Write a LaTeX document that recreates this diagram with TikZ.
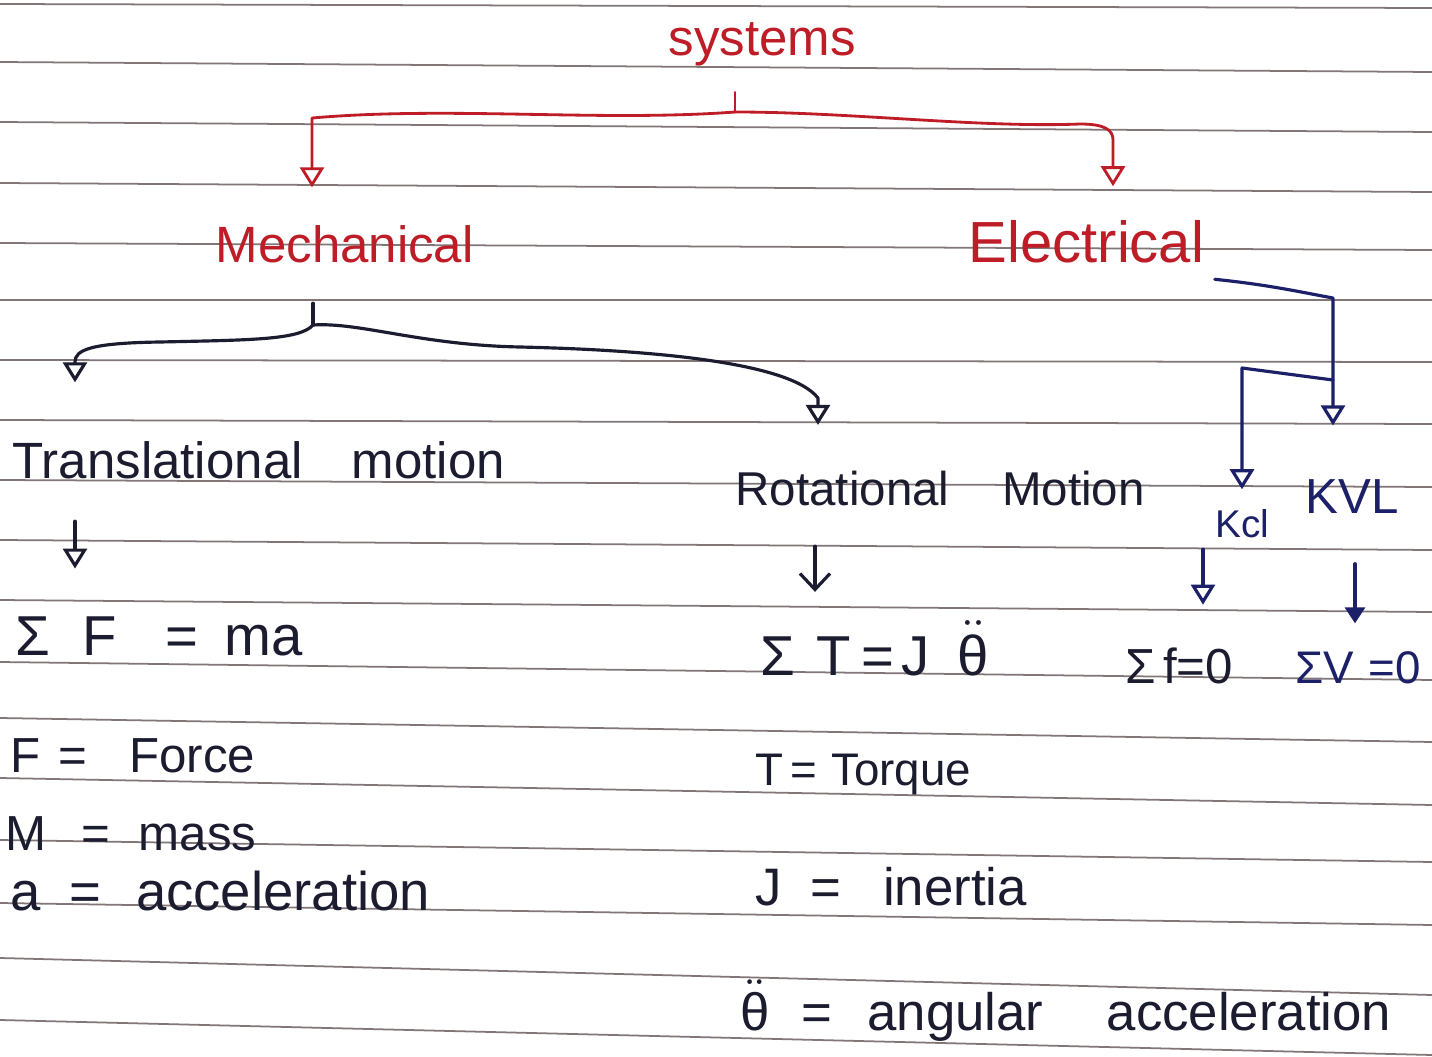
\documentclass[tikz,border=0pt]{standalone}
\usepackage{fontspec}
\setmainfont{Liberation Sans}
\usetikzlibrary{arrows.meta,calc}
\definecolor{redink}{RGB}{190,28,38}
\definecolor{ink}{RGB}{28,28,48}
\definecolor{navy}{RGB}{28,32,105}
\definecolor{ruleline}{RGB}{130,118,118}
\newcommand{\thdd}{$\ddot{\hbox{θ}}$}
\begin{document}
\begin{tikzpicture}[x=0.01cm,y=-0.01cm,
  txt/.style={inner sep=0pt,anchor=base west,text=ink},
  rtxt/.style={txt,text=redink},
  ntxt/.style={txt,text=navy},
  ruled/.style={ruleline,line width=0.5pt},
  pen/.style={ink,line width=0.9pt,line cap=round,line join=round},
  redpen/.style={pen,redink,line width=0.8pt},
  navypen/.style={pen,navy},
  opentip/.style={-{Triangle[open,length=0.2cm,width=0.24cm]}},
  barbtip/.style={-{Straight Barb[length=0.16cm,width=0.3cm]}},
  filltip/.style={-{Triangle[length=0.16cm,width=0.2cm]}}]
\useasboundingbox (0,0) rectangle (1432,1057);
\fill[white] (0,0) rectangle (1432,1057);
% ruled paper
\foreach \a/\b in {4/8,62/72,122/132,183/192,243/250,300/300,360/362,420/424,480/487,540/550,600/612,662/680,718/742,778/805,840/862,903/925,958/995,1020/1055}
  \draw[ruled] (0,\a) -- (1432,\b);
% texts
\node[rtxt,font=\fontsize{14.5}{17}\selectfont] (sys) at (668,55) {systems};
\node[rtxt,font=\fontsize{14.5}{17}\selectfont] (mech) at (215,262) {Mechanical};
\node[rtxt,font=\fontsize{16.5}{20}\selectfont] (elec) at (968,262) {Electrical};
\node[txt,font=\fontsize{14.5}{17}\selectfont] (trans) at (12,478) {Translational\hspace{14pt}motion};
\node[txt,font=\fontsize{13.5}{16}\selectfont] (rot) at (735,505) {Rotational\hspace{15pt}Motion};
\node[ntxt,font=\fontsize{11}{13}\selectfont] (kcl) at (1215,537) {Kcl};
\node[ntxt,font=\fontsize{14}{17}\selectfont] (kvl) at (1305,513) {KVL};
\node[txt,font=\fontsize{16}{19}\selectfont] (sf) at (15,655) {Σ\hspace{9pt}F\hspace{14pt}=\hspace{7.5pt}ma};
\node[txt,font=\fontsize{16}{19}\selectfont] (st) at (760,675) {Σ\hspace{6pt}T\hspace{3pt}=\hspace{2pt}J\hspace{8pt}\thdd};
\node[txt,font=\fontsize{14}{17}\selectfont] (kclq) at (1125,683) {Σ\hspace{2pt}f=0};
\node[ntxt,font=\fontsize{13}{16}\selectfont] (kvlq) at (1295,683) {ΣV\hspace{4pt}=0};
\node[txt,font=\fontsize{14}{17}\selectfont] (fforce) at (10,772) {F\hspace{5pt}=\hspace{12pt}Force};
\node[txt,font=\fontsize{14}{17}\selectfont] (mmass) at (5,850) {M\hspace{10pt}=\hspace{8pt}mass};
\node[txt,font=\fontsize{15.5}{18}\selectfont] (aacc) at (10,910) {a\hspace{8pt}=\hspace{10pt}acceleration};
\node[txt,font=\fontsize{13}{16}\selectfont] (ttorque) at (755,785) {T\hspace{2pt}=\hspace{4pt}Torque};
\node[txt,font=\fontsize{15}{18}\selectfont] (jin) at (755,905) {J\hspace{8pt}=\hspace{12pt}inertia};
\node[txt,font=\fontsize{15}{18}\selectfont] (theta) at (740,1030) {\thdd\hspace{9pt}=\hspace{10pt}angular\hspace{18pt}acceleration};
% red tree
\coordinate (j1) at (735,112);
\coordinate (c1) at (312,118);
\coordinate (c2) at (1113,140);
\draw[redpen,shorten <=0.26cm] (sys.south -| j1) -- (j1);
\draw[redpen,opentip,shorten >=0.37cm] (j1) .. controls (600,122) and (450,106) .. (c1) -- (c1 |- mech.north);
\draw[redpen,opentip,shorten >=0.33cm] (j1) .. controls (850,112) and (980,128) .. (1080,124) .. controls (1105,124) and (1113,130) .. (c2) -- (c2 |- elec.north);
% mechanical tree
\coordinate (j2) at (313,325);
\coordinate (c3) at (75,362);
\coordinate (c4) at (818,398);
\draw[pen,shorten <=0.4cm] (mech.south -| j2) -- (j2);
\draw[pen,opentip,shorten >=0.58cm] (j2) .. controls (300,340) and (250,340) .. (160,342) .. controls (90,343) and (75,350) .. (c3) -- (c3 |- trans.north);
\draw[pen,opentip,shorten >=0.45cm] (j2) .. controls (360,322) and (420,345) .. (520,347) .. controls (650,350) and (790,362) .. (c4) -- (c4 |- rot.north);
% electrical tree
\coordinate (c5) at (1333,298);
\coordinate (j3) at (1333,380);
\coordinate (c6) at (1242,368);
\draw[navypen,opentip,shorten >=0.53cm] ($(elec.south east)+(10,16)$) .. controls (1270,285) and (1300,292) .. (c5) -- (c5 |- kvl.north);
\draw[navypen,opentip,shorten >=0.19cm] (j3) -- (c6) -- (c6 |- kcl.north);
% second level arrows
\coordinate (x1) at (75,0);
\coordinate (x2) at (815,0);
\coordinate (x3) at (1203,0);
\coordinate (x4) at (1355,0);
\draw[pen,opentip,shorten <=0.42cm,shorten >=0.47cm] (trans.south -| x1) -- (sf.north -| x1);
\draw[pen,barbtip,shorten <=0.4cm,shorten >=0.28cm] (rot.south -| x2) -- (st.north -| x2);
\draw[navypen,opentip,shorten <=0.11cm,shorten >=0.42cm] (kcl.south -| x3) -- (kclq.north -| x3);
\draw[navypen,filltip,shorten <=0.5cm,shorten >=0.27cm] (kvl.south -| x4) -- (kvlq.north -| x4);
\end{tikzpicture}
\end{document}
